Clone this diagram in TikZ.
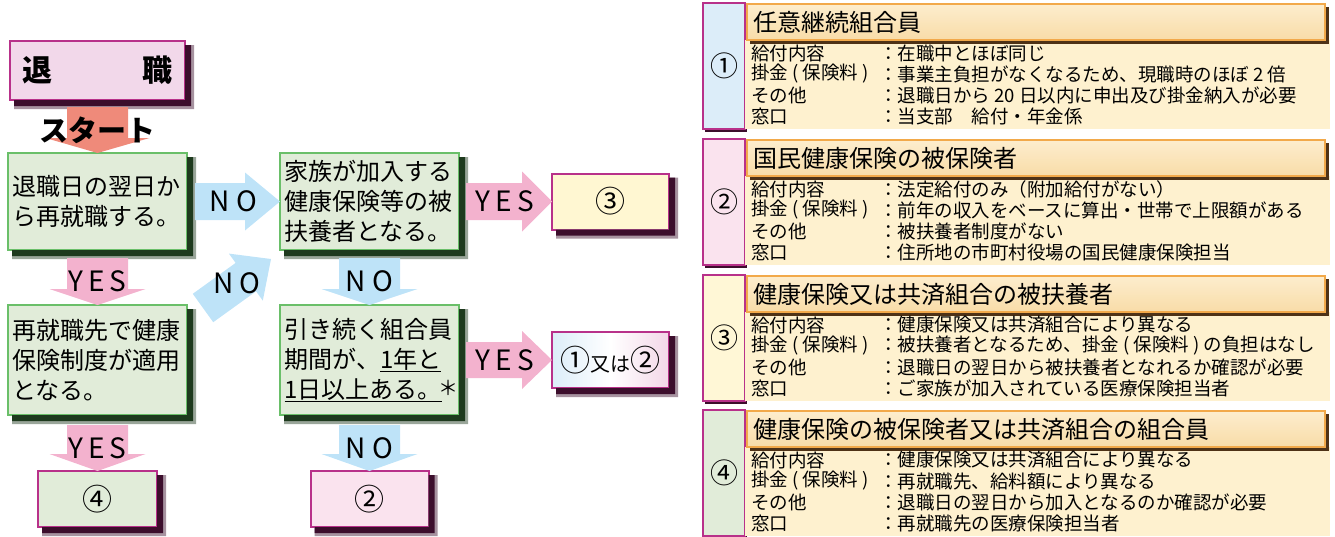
\documentclass[tikz,border=0pt]{standalone}
\usepackage{fontspec}
\setmainfont{Noto Sans CJK JP}
\usetikzlibrary{positioning,calc}

\definecolor{retfill}{HTML}{F2D8EA}
\definecolor{magline}{HTML}{B8318A}
\definecolor{magshade}{HTML}{3C0E2C}
\definecolor{grnfill}{HTML}{E1ECD9}
\definecolor{grnline}{HTML}{6ABF69}
\definecolor{grnshade}{HTML}{1E3A1E}
\definecolor{yespink}{HTML}{F3B2CE}
\definecolor{noblue}{HTML}{BEE3F8}
\definecolor{startred}{HTML}{EF8A7A}
\definecolor{resyellow}{HTML}{FFF7D2}
\definecolor{respink}{HTML}{FAE3EE}
\definecolor{cellblue}{HTML}{DCEDF9}
\definecolor{cellpink}{HTML}{FAE3EE}
\definecolor{cellyellow}{HTML}{FFF7D6}
\definecolor{cellgreen}{HTML}{E1ECD9}
\definecolor{panelfill}{HTML}{FEF1CF}
\definecolor{hdrtop}{HTML}{FDEDCD}
\definecolor{hdrbot}{HTML}{F8DCA8}
\definecolor{hdrline}{HTML}{F2A94A}
\definecolor{hdrshade}{HTML}{4E3216}

\begin{document}
\begin{tikzpicture}[x=1pt,y=-1pt,
	flow/.style={draw=grnline,line width=1.5pt,fill=grnfill,rectangle,inner sep=0pt,outer sep=0pt,
		align=left,text width=170pt,minimum width=179pt,font=\fontsize{24}{30}\selectfont},
	result/.style={draw=magline,line width=2pt,rectangle,inner sep=0pt,outer sep=0pt,
		minimum width=117pt,minimum height=56pt,font=\fontsize{30}{30}\selectfont},
	tag/.style={inner sep=0pt,font=\fontsize{28}{28}\selectfont},
	yestag/.style={inner sep=0pt,font=\fontsize{28}{28}\selectfont\addfontfeature{LetterSpace=18}},
	cell/.style={draw=magline,line width=1.5pt,rectangle,inner sep=0pt,minimum width=42pt,
		minimum height=126pt,font=\fontsize{28}{28}\selectfont},
	panelbody/.style={fill=panelfill,rectangle,inner sep=0pt,minimum width=585pt,minimum height=89pt},
	panelhead/.style={draw=hdrline,line width=1.2pt,top color=hdrtop,bottom color=hdrbot,
		rectangle,inner sep=0pt,minimum width=578pt,minimum height=36pt,text width=566pt,align=left,
		font=\fontsize{24}{24}\selectfont},
	rowtext/.style={inner sep=0pt,anchor=west,font=\fontsize{18.5}{21}\selectfont},
	blockarrow/.style n args={3}{to path={
		($(\tikztostart)!#1!90:(\tikztotarget)$) --
		($($(\tikztotarget)!#3!(\tikztostart)$)!#1!-90:(\tikztostart)$) --
		($($(\tikztotarget)!#3!(\tikztostart)$)!#2!-90:(\tikztostart)$) --
		(\tikztotarget) --
		($($(\tikztotarget)!#3!(\tikztostart)$)!#2!90:(\tikztostart)$) --
		($($(\tikztotarget)!#3!(\tikztostart)$)!#1!90:(\tikztostart)$) --
		($(\tikztostart)!#1!-90:(\tikztotarget)$) -- cycle}}]
	\useasboundingbox (0,0) rectangle (1335,536);

	% flow chart
	\node[flow,minimum height=97pt] (A) at (97.5,201.5) {退職日の翌日か\\ら再就職する。};
	\node[draw=magline,line width=2pt,fill=retfill,inner sep=0pt,outer sep=0pt,minimum width=175pt,
		minimum height=59pt,text width=150pt,font=\fontsize{30}{30}\selectfont\bfseries]
		(retire) [above=53pt of A] {退\hfill 職};
	\node[flow,minimum height=97pt]  (B) [right=93pt of A] {家族が加入する\\健康保険等の被\\扶養者となる。};
	\node[flow,minimum height=110pt] (C) [below=55pt of A] {再就職先で健康\\保険制度が適用\\となる。};
	\node[flow,minimum height=110pt] (D) [below=55pt of B]
		{引き続く組合員\\期間が、\underline{1年と}\\\underline{1日以上ある。}\rlap{\hspace{-3pt}\raisebox{3pt}{\fontsize{20}{20}\selectfont ＊}}};
	\node[result,fill=resyellow] (endC) [right=93pt of B] {③};
	\node[result,left color=cellblue,right color=respink!70!magline!50,middle color=white] (endD) [right=93pt of D]
		{①{\fontsize{20}{20}\selectfont 又は}②};
	\node[result,fill=grnfill,minimum width=119pt] (endA) [below=56pt of C] {④};
	\node[result,fill=respink,minimum width=118pt]  (endB) [below=56pt of D] {②};

	% shadows along the right and lower edges
	\foreach \bx/\bc in {retire/magshade,A/grnshade,B/grnshade,C/grnshade,D/grnshade,
			endA/magshade,endB/magshade,endC/magshade,endD/magshade}{
		\fill[\bc!45!white] ([yshift=-4pt]\bx.north east) -- ([shift={(9pt,-4pt)}]\bx.north east)
			-- ([shift={(9pt,-9pt)}]\bx.south east) -- ([shift={(4pt,-9pt)}]\bx.south west)
			-- ([xshift=4pt]\bx.south west) -- (\bx.south east) -- cycle;
		\fill[\bc] ([yshift=-4pt]\bx.north east) -- ([shift={(6pt,-4pt)}]\bx.north east)
			-- ([shift={(6pt,-6pt)}]\bx.south east) -- ([shift={(4pt,-6pt)}]\bx.south west)
			-- ([xshift=4pt]\bx.south west) -- (\bx.south east) -- cycle;
	}

	% block arrows
	\coordinate (s0) at ([yshift=-7pt]retire.south);
	\coordinate (n1) at ([xshift=8pt]A.east);
	\coordinate (y1) at ([xshift=7pt]B.east);
	\coordinate (y2) at ([yshift=-8pt]A.south);
	\coordinate (y3) at ([yshift=-10pt]C.south);
	\coordinate (n2) at ([yshift=-8pt]B.south);
	\coordinate (n3) at ([yshift=-10pt]D.south);
	\coordinate (y4) at ([xshift=7pt]D.east);
	\coordinate (n4) at ([shift={(16pt,-3pt)}]C.north east);
	\coordinate (n4e) at ([shift={(-9pt,-9pt)}]B.south west);
	\fill[startred,blockarrow={30.5pt}{52pt}{15pt}] (s0) to (A.north);
	\fill[noblue,blockarrow={18.5pt}{29pt}{35pt}]   (n1) to (B.west);
	\fill[yespink,blockarrow={18.5pt}{30pt}{30pt}]  (y1) to (endC.west);
	\fill[yespink,blockarrow={30.5pt}{48pt}{16pt}]  (y2) to (C.north);
	\fill[yespink,blockarrow={30.5pt}{48pt}{17pt}]  (y3) to (endA.north);
	\fill[noblue,blockarrow={30.5pt}{48pt}{16pt}]   (n2) to (D.north);
	\fill[noblue,blockarrow={30.5pt}{48pt}{17pt}]   (n3) to (endB.north);
	\fill[yespink,blockarrow={18pt}{29pt}{30pt}]    (y4) to (endD.west);
	\fill[noblue,blockarrow={17.5pt}{29pt}{31pt}]   (n4) to (n4e);

	\node[inner sep=0pt,font=\fontsize{29}{29}\selectfont\bfseries] (lstart) at ($(s0)!0.5!(A.north)$) {スタート};
	\node[tag]    (lno1)  at ($(n1)!0.45!(B.west)$)    {N O};
	\node[yestag] (lyes1) at ($(y1)!0.45!(endC.west)$) {YES};
	\node[yestag] (lyes2) at ($(y2)!0.5!(C.north)$)    {YES};
	\node[yestag] (lyes3) at ($(y3)!0.5!(endA.north)$) {YES};
	\node[tag]    (lno2)  at ($(n2)!0.5!(D.north)$)    {N O};
	\node[tag]    (lno3)  at ($(n3)!0.5!(endB.north)$) {N O};
	\node[yestag] (lyes4) at ($(y4)!0.45!(endD.west)$) {YES};
	\node[tag]    (lno4)  at ($(n4)!0.5!(n4e)$)        {N O};

	% panels on the right
	\foreach \ytop/\idx/\numglyph/\cellcol/\ttl/\va/\vb/\vc/\vd in {
		3/1/①/cellblue/{任意継続組合員}/{在職中とほぼ同じ}/{事業主負担がなくなるため、現職時のほぼ 2 倍}/{退職日から 20 日以内に申出及び掛金納入が必要}/{当支部\quad 給付・年金係},
		139/2/②/cellpink/{国民健康保険の被保険者}/{法定給付のみ（附加給付がない）}/{前年の収入をベースに算出・世帯で上限額がある}/{被扶養者制度がない}/{住所地の市町村役場の国民健康保険担当},
		275/3/③/cellyellow/{健康保険又は共済組合の被扶養者}/{健康保険又は共済組合により異なる}/{被扶養者となるため、掛金 ( 保険料 ) の負担はなし}/{退職日の翌日から被扶養者となれるか確認が必要}/{ご家族が加入されている医療保険担当者},
		410/4/④/cellgreen/{健康保険の被保険者又は共済組合の組合員}/{健康保険又は共済組合により異なる}/{再就職先、給料額により異なる}/{退職日の翌日から加入となるのか確認が必要}/{再就職先の医療保険担当者}}{
		\fill[magshade] (705,\ytop+3) rectangle (747,\ytop+129);
		\node[cell,fill=\cellcol] (num\idx) at (724,\ytop+63) {\numglyph};
		\node[panelbody] (body\idx) at (1037.5,\ytop+81.5) {};
		\fill[hdrshade] (750,\ytop+4) rectangle (1329,\ytop+41);
		\node[panelhead] (head\idx) at (1036,\ytop+19) {\ttl};
		\foreach \lab/\val [count=\r] in {{給付内容}/{\va},{掛金 ( 保険料 )}/{\vb},{その他}/{\vc},{窓口}/{\vd}}{
			\node[rowtext] (k\idx-\r) at (751,\ytop+29+21*\r) {\lab};
			\node[rowtext] (v\idx-\r) at (879,\ytop+29+21*\r) {：\val};
		}
	}
\end{tikzpicture}
\end{document}
